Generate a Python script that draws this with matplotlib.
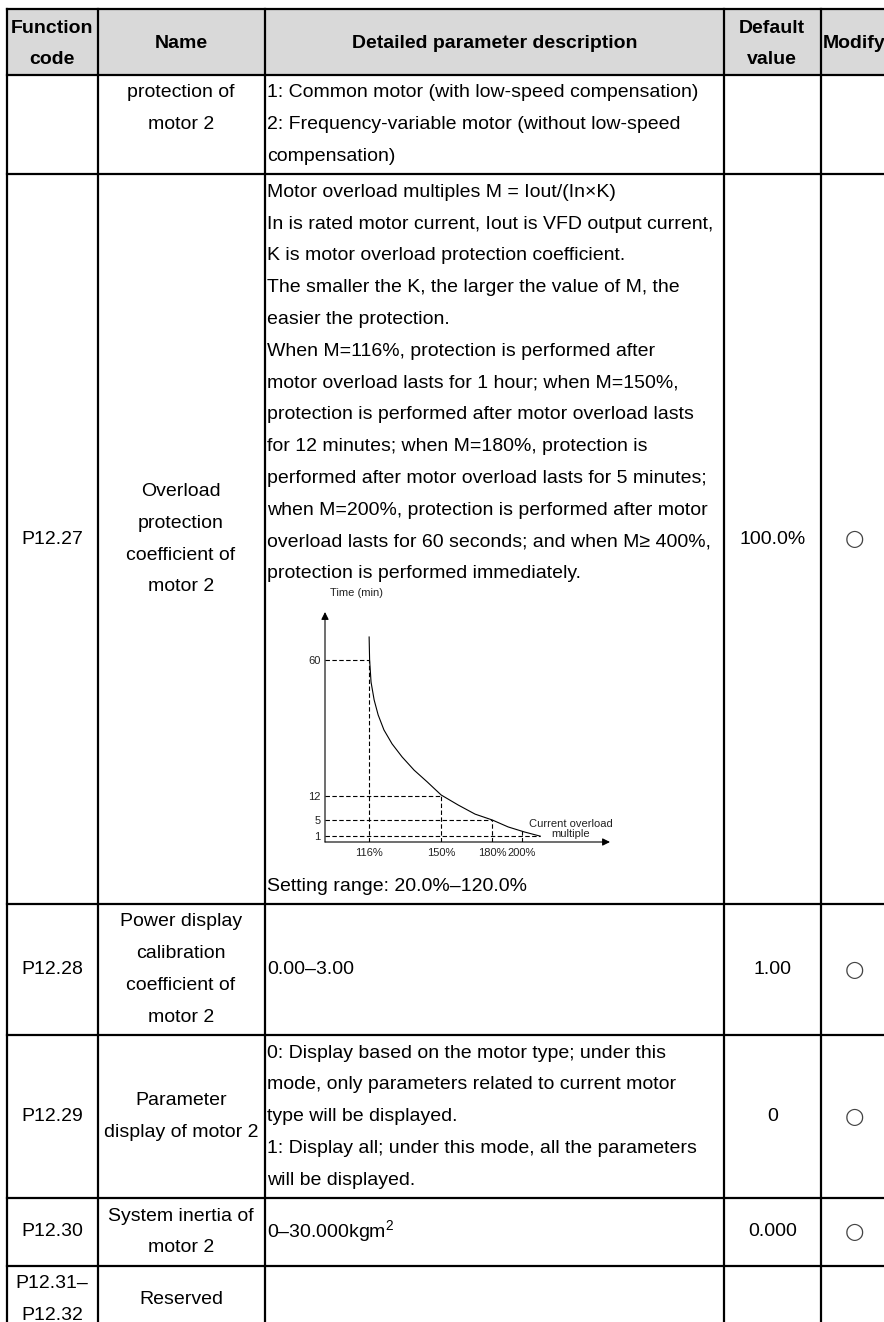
import matplotlib.pyplot as plt
import numpy as np
from matplotlib.ticker import NullLocator
from matplotlib.patches import Rectangle

plt.rcParams['font.family'] = ['Liberation Sans', 'DejaVu Sans']
plt.rcParams['mathtext.fontset'] = 'custom'
plt.rcParams['mathtext.rm'] = 'Liberation Sans'

# ---- table content ----
headers = [["Function", "code"], ["Name"], ["Detailed parameter description"],
           ["Default", "value"], ["Modify"]]
codes = [[], ["P12.27"], ["P12.28"], ["P12.29"], ["P12.30"], ["P12.31–", "P12.32"]]
names = [["protection of", "motor 2"],
         ["Overload", "protection", "coefficient of", "motor 2"],
         ["Power display", "calibration", "coefficient of", "motor 2"],
         ["Parameter", "display of motor 2"],
         ["System inertia of", "motor 2"],
         ["Reserved"]]
descs = [["1: Common motor (with low-speed compensation)",
          "2: Frequency-variable motor (without low-speed",
          "compensation)"],
         ["Motor overload multiples M = Iout/(In×K)",
          "In is rated motor current, Iout is VFD output current,",
          "K is motor overload protection coefficient.",
          "The smaller the K, the larger the value of M, the",
          "easier the protection.",
          "When M=116%, protection is performed after",
          "motor overload lasts for 1 hour; when M=150%,",
          "protection is performed after motor overload lasts",
          "for 12 minutes; when M=180%, protection is",
          "performed after motor overload lasts for 5 minutes;",
          "when M=200%, protection is performed after motor",
          "overload lasts for 60 seconds; and when M≥ 400%,",
          "protection is performed immediately."],
         ["0.00–3.00"],
         ["0: Display based on the motor type; under this",
          "mode, only parameters related to current motor",
          "type will be displayed.",
          "1: Display all; under this mode, all the parameters",
          "will be displayed."],
         ["0–30.000kgm$^2$"],
         []]
setting_range = "Setting range: 20.0%–120.0%"
defaults = ["", "100.0%", "1.00", "0", "0.000", ""]
modifies = ["", "○", "○", "○", "○", ""]

# ---- overload curve ----
curve_pct = [116, 116.2, 116.8, 118.1, 119.8, 122.3, 125.9, 130.5, 136.2, 142.7, 150,
             159.4, 169.3, 180, 190.5, 201.7, 213.6]
curve_time = [69, 60, 51.5, 44.8, 39.3, 33.9, 29.0, 24.5, 20.1, 16.3, 12.2,
              9.2, 6.6, 5, 3.2, 2.0, 1.05]
tick_pct = [116, 150, 180, 200]
tick_time = [60, 12, 5, 1]
hline_end_pct = [116, 150, 180, 213.6]
vline_top_time = [60, 12, 5, 2.1]

# ---- layout (pixels) ----
W, H = 884, 1322
FS = 14
PITCH = 31.8
col_edges = [7, 97.5, 264.5, 724, 820.5, 888]
row_edges = [9, 75, 174.4, 904, 1035.2, 1198.2, 1265.8, 1333.4]

fig = plt.figure(figsize=(W / 100, H / 100), dpi=100)
ax = fig.add_axes([0, 0, 1, 1])
ax.set_xlim(0, W)
ax.set_ylim(H, 0)
ax.axis('off')

ax.add_patch(Rectangle((col_edges[0], row_edges[0]), col_edges[-1] - col_edges[0],
                       row_edges[1] - row_edges[0], color='#d9d9d9', lw=0, zorder=0))

for y in row_edges:
    ax.plot([col_edges[0], col_edges[-1]], [y, y], color='k', lw=1.6, solid_capstyle='projecting')
for x in col_edges:
    ax.plot([x, x], [row_edges[0], row_edges[-1]], color='k', lw=1.6, solid_capstyle='projecting')


def centered(lines, ci, y0, y1, **kw):
    xc = (col_edges[ci] + col_edges[ci + 1]) / 2
    yc = (y0 + y1) / 2
    n = len(lines)
    kw.setdefault('fontsize', FS)
    for k, s in enumerate(lines):
        ax.text(xc, yc + (k - (n - 1) / 2) * PITCH, s, ha='center', va='center', **kw)


for ci, lines in enumerate(headers):
    centered(lines, ci, row_edges[0], row_edges[1] + 4, fontweight='bold')

dx = col_edges[2] + 2.5
for r in range(6):
    y0, y1 = row_edges[r + 1], row_edges[r + 2]
    centered(codes[r], 0, y0, y1)
    if r == 0:
        for k, s in enumerate(names[r]):
            ax.text((col_edges[1] + col_edges[2]) / 2, y0 + 2 + PITCH / 2 + k * PITCH, s,
                    ha='center', va='center', fontsize=FS)
    else:
        centered(names[r], 1, y0, y1)
    if r in (0, 1):
        for k, s in enumerate(descs[r]):
            ax.text(dx, y0 + 2 + PITCH / 2 + k * PITCH, s, ha='left', va='center', fontsize=FS)
    else:
        n = len(descs[r])
        for k, s in enumerate(descs[r]):
            ax.text(dx, (y0 + y1) / 2 + (k - (n - 1) / 2) * PITCH, s, ha='left',
                    va='center', fontsize=FS)
    centered([defaults[r]], 3, y0, y1)
    centered([modifies[r]], 4, y0, y1, fontsize=16, color='#444444',
             family=['DejaVu Sans', 'Liberation Sans'])

ax.text(dx, row_edges[3] - 2 - PITCH / 2, setting_range, ha='left', va='center', fontsize=FS)

# ---- embedded overload chart ----
cx0, cx1, cy_axis, cy_top = 325, 610, 842, 612
cax = fig.add_axes([cx0 / W, 1 - cy_axis / H, (cx1 - cx0) / W, (cy_axis - cy_top) / H])
cax.set_xscale('log')
cax.set_yscale('function', functions=(lambda v: np.sign(v) * np.abs(v) ** 0.85,
                                      lambda v: np.sign(v) * np.abs(v) ** (1 / 0.85)))
x_lo = 99.1
cax.set_xlim(x_lo, 274)
cax.set_ylim(0, 79)
cax.patch.set_alpha(0)
for sp in cax.spines.values():
    sp.set_visible(False)

cax.plot(curve_pct, curve_time, color='k', lw=0.8, clip_on=False, solid_joinstyle='round')
for t, pend in zip(tick_time, hline_end_pct):
    cax.plot([x_lo, pend], [t, t], color='k', lw=0.8, dashes=(4, 2.2))
for p, ttop in zip(tick_pct, vline_top_time):
    cax.plot([p, p], [0, ttop], color='k', lw=0.8, dashes=(4, 2.2))

arrow = dict(arrowstyle='-|>', color='k', lw=0.8, mutation_scale=11, shrinkA=0, shrinkB=0)
cax.annotate('', xy=(1, 0), xytext=(0, 0), xycoords='axes fraction', arrowprops=arrow)
cax.annotate('', xy=(0, 1), xytext=(0, 0), xycoords='axes fraction', arrowprops=arrow)

cax.set_xticks(tick_pct)
cax.set_xticklabels([f"{p}%" for p in tick_pct])
cax.set_yticks(tick_time)
cax.set_yticklabels([str(t) for t in tick_time])
cax.xaxis.set_minor_locator(NullLocator())
cax.yaxis.set_minor_locator(NullLocator())
cax.tick_params(axis='both', length=0, labelsize=8, colors='#222222')
cax.tick_params(axis='x', pad=4)
cax.tick_params(axis='y', pad=3)

ax.text(330, 593, "Time (min)", ha='left', va='center', fontsize=8, color='#222222')
ax.text(571, 829, "Current overload\nmultiple", ha='center', va='center', fontsize=8,
        color='#222222', linespacing=1.0)

fig.savefig('out.png', dpi=100)
